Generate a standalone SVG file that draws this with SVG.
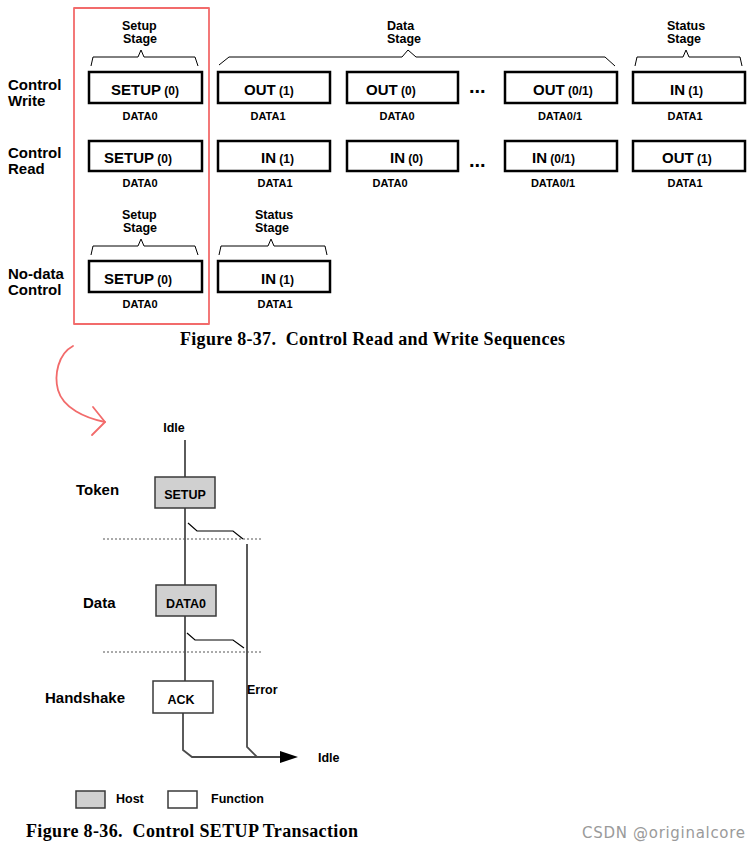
<svg xmlns="http://www.w3.org/2000/svg" width="751" height="852" viewBox="0 0 751 852">
<style>
.sans{font-family:"Liberation Sans",Arial,sans-serif;font-weight:bold;fill:#000}
.lbl{font-size:15px}
.stage{font-size:12.5px;text-anchor:start}
.dl{font-size:11px;text-anchor:middle}
.big{font-size:15px}
.sm{font-size:12px}
.pkt{fill:#fff;stroke:#000;stroke-width:2.5}
.brk{fill:none;stroke:#000;stroke-width:1}
.cap{font-family:"Liberation Serif","Times New Roman",serif;font-weight:bold;font-size:18px;fill:#000}
.ln{fill:none;stroke:#4a4a4a;stroke-width:1.8}
.br{fill:none;stroke:#000;stroke-width:1.2}
.dot{fill:none;stroke:#555;stroke-width:1;stroke-dasharray:2,2}
.host{fill:#d0d0d0;stroke:#3a3a3a;stroke-width:1.5}
.func{fill:#fff;stroke:#3a3a3a;stroke-width:1.5}
.t2{font-family:"Liberation Sans",Arial,sans-serif;font-weight:bold;fill:#000;font-size:12.5px}
.t3{font-family:"Liberation Sans",Arial,sans-serif;font-weight:bold;fill:#000;font-size:15px}
.red{fill:none;stroke:#f26b6b;stroke-width:1.8;stroke-linecap:round;stroke-linejoin:round}
</style>
<rect width="751" height="852" fill="#fff"/>

<!-- Figure 8-37 -->
<g id="highlight"><rect x="74" y="8" width="135" height="316" class="red" stroke-width="2"/></g>

<g id="row-labels" class="sans lbl">
<text x="8" y="90">Control</text><text x="8" y="106">Write</text>
<text x="8" y="158">Control</text><text x="8" y="174">Read</text>
<text x="8" y="279">No-data</text><text x="8" y="295">Control</text>
</g>

<g id="brackets">
<path class="brk" d="M91,66 L93,57 L138,57 L141,50 L144,57 L195,57 L198,66"/>
<path class="brk" d="M219,65 L229,57 L402,57 L408,50 L416,57 L605,57 L615,66"/>
<path class="brk" d="M635,66 L637,57 L683,57 L686,50 L689,57 L740,57 L742,66"/>
<path class="brk" d="M91,255 L93,246 L138,246 L141,239 L144,246 L195,246 L198,255"/>
<path class="brk" d="M219,255 L221,246 L268,246 L271,239 L274,246 L325,246 L327,255"/>
<g class="sans stage">
<text x="122" y="30">Setup</text><text x="123" y="43">Stage</text>
<text x="387" y="30">Data</text><text x="387" y="43">Stage</text>
<text x="667" y="30">Status</text><text x="667" y="43">Stage</text>
<text x="122" y="219">Setup</text><text x="123" y="232">Stage</text>
<text x="255" y="219">Status</text><text x="255" y="232">Stage</text>
</g>
</g>

<g id="w-setup"><rect class="pkt" x="89" y="72" width="113" height="31"/><text class="sans" x="111" y="95"><tspan class="big">SETUP</tspan><tspan class="sm"> (0)</tspan></text><text class="sans dl" x="140" y="120">DATA0</text></g>
<g id="w-out1"><rect class="pkt" x="218" y="72" width="112" height="31"/><text class="sans" x="244" y="95"><tspan class="big">OUT</tspan><tspan class="sm"> (1)</tspan></text><text class="sans dl" x="268" y="120">DATA1</text></g>
<g id="w-out0"><rect class="pkt" x="347" y="72" width="111" height="31"/><text class="sans" x="366" y="95"><tspan class="big">OUT</tspan><tspan class="sm"> (0)</tspan></text><text class="sans dl" x="397" y="120">DATA0</text></g>
<g id="w-out01"><rect class="pkt" x="505" y="72" width="112" height="31"/><text class="sans" x="533" y="95"><tspan class="big">OUT</tspan><tspan class="sm"> (0/1)</tspan></text><text class="sans dl" x="560" y="120">DATA0/1</text></g>
<g id="w-in1"><rect class="pkt" x="633" y="72" width="112" height="31"/><text class="sans" x="670" y="95"><tspan class="big">IN</tspan><tspan class="sm"> (1)</tspan></text><text class="sans dl" x="685" y="120">DATA1</text></g>
<text class="sans" x="469" y="93" font-size="20">...</text>

<g id="r-setup"><rect class="pkt" x="89" y="141" width="113" height="30"/><text class="sans" x="104" y="163"><tspan class="big">SETUP</tspan><tspan class="sm"> (0)</tspan></text><text class="sans dl" x="140" y="187">DATA0</text></g>
<g id="r-in1"><rect class="pkt" x="218" y="141" width="112" height="30"/><text class="sans" x="261" y="163"><tspan class="big">IN</tspan><tspan class="sm"> (1)</tspan></text><text class="sans dl" x="275" y="187">DATA1</text></g>
<g id="r-in0"><rect class="pkt" x="347" y="141" width="111" height="30"/><text class="sans" x="390" y="163"><tspan class="big">IN</tspan><tspan class="sm"> (0)</tspan></text><text class="sans dl" x="390" y="187">DATA0</text></g>
<g id="r-in01"><rect class="pkt" x="505" y="141" width="112" height="30"/><text class="sans" x="532" y="163"><tspan class="big">IN</tspan><tspan class="sm"> (0/1)</tspan></text><text class="sans dl" x="553" y="187">DATA0/1</text></g>
<g id="r-out1"><rect class="pkt" x="633" y="141" width="112" height="30"/><text class="sans" x="662" y="163"><tspan class="big">OUT</tspan><tspan class="sm"> (1)</tspan></text><text class="sans dl" x="685" y="187">DATA1</text></g>
<text class="sans" x="469" y="167" font-size="20">...</text>

<g id="n-setup"><rect class="pkt" x="89" y="261" width="113" height="31"/><text class="sans" x="104" y="284"><tspan class="big">SETUP</tspan><tspan class="sm"> (0)</tspan></text><text class="sans dl" x="140" y="308">DATA0</text></g>
<g id="n-in1"><rect class="pkt" x="218" y="261" width="112" height="31"/><text class="sans" x="261" y="284"><tspan class="big">IN</tspan><tspan class="sm"> (1)</tspan></text><text class="sans dl" x="275" y="308">DATA1</text></g>

<text class="cap" x="180" y="345" xml:space="preserve" textLength="385">Figure 8-37.  Control Read and Write Sequences</text>

<!-- red hand-drawn arrow -->
<g id="red-arrow">
<path class="red" d="M73,346 C58,354 54,375 58,390 C63,408 85,418 105,422"/>
<polyline class="red" points="93,407 105,422 92,435"/>
</g>

<!-- Figure 8-36 -->
<g id="labels" class="t3">
<text x="76" y="495">Token</text>
<text x="83" y="608">Data</text>
<text x="45" y="703">Handshake</text>
</g>
<text class="t2" x="174" y="432" text-anchor="middle">Idle</text>

<g id="connectors">
<line class="ln" x1="185" y1="440" x2="185" y2="477"/>
<line class="ln" x1="185" y1="508" x2="185" y2="585"/>
<line class="ln" x1="185" y1="616" x2="185" y2="681"/>
<polyline class="br" points="188,523 197,531 233,531 243,539"/>
<polyline class="br" points="187,633 195,640 233,640 244,648"/>
<line class="dot" x1="103" y1="539" x2="261" y2="539"/>
<line class="dot" x1="103" y1="652" x2="261" y2="652"/>
<polyline class="ln" points="247,544 247,747 257,757"/>
<polyline class="ln" points="183,713 183,750 192,757 282,757"/>
<polygon points="280,751 298,757 280,763" fill="#000"/>
</g>

<g id="setup-token"><rect class="host" x="155" y="477" width="60" height="31"/><text class="t2" x="185" y="499" text-anchor="middle">SETUP</text></g>
<g id="data0"><rect class="host" x="156" y="585" width="60" height="31"/><text class="t2" x="186" y="608" text-anchor="middle">DATA0</text></g>
<g id="ack"><rect class="func" x="153" y="681" width="60" height="32"/><text class="t2" x="181" y="704" text-anchor="middle">ACK</text></g>
<text class="t2" x="247" y="694">Error</text>
<text class="t2" x="318" y="762">Idle</text>

<g id="legend">
<rect class="host" x="76" y="791" width="29" height="17"/><text class="t2" x="116" y="803">Host</text>
<rect class="func" x="168" y="791" width="29" height="17"/><text class="t2" x="211" y="803">Function</text>
</g>

<text class="cap" x="26" y="837" xml:space="preserve" textLength="332">Figure 8-36.  Control SETUP Transaction</text>

<text x="582" y="838" font-family="'DejaVu Sans',sans-serif" font-size="15" fill="#9a9a9a" textLength="163">CSDN @originalcore</text>
</svg>
